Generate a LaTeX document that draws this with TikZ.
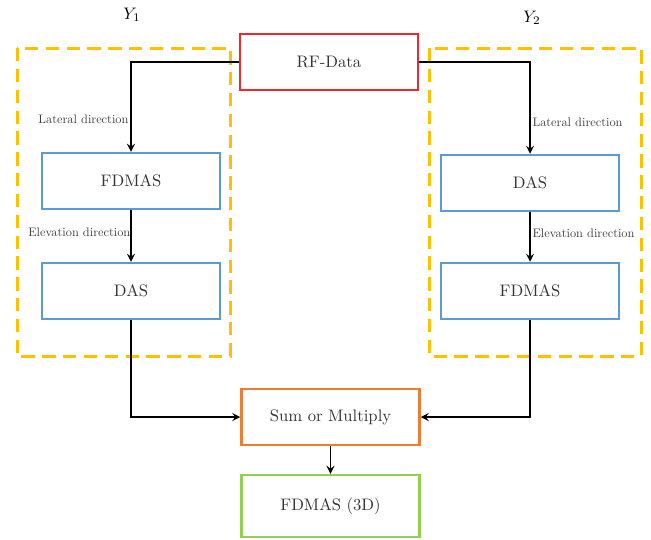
\documentclass[tikz,border=0pt]{standalone}
\usepackage{tikz}
\usetikzlibrary{arrows}
\definecolor{boxred}{HTML}{EA2A2E}
\definecolor{boxblue}{HTML}{5B9BD5}
\definecolor{boxorange}{HTML}{ED7D31}
\definecolor{boxgreen}{HTML}{92D050}
\definecolor{grpyellow}{HTML}{FFC000}
\tikzstyle{block} = [rectangle, minimum width=106.8pt, minimum height=33.6pt, text centered, line width=1.5pt, text=black!80]
\tikzstyle{input} = [block, draw=boxred]
\tikzstyle{beam} = [block, draw=boxblue]
\tikzstyle{combine} = [block, draw=boxorange]
\tikzstyle{result} = [block, draw=boxgreen, minimum height=37.2pt]
\tikzstyle{group} = [rectangle, draw=grpyellow, line width=1.8pt, dash pattern=on 8pt off 4.5pt]
\tikzstyle{dirlabel} = [scale=0.74, transform shape, text=black!75, inner sep=1.5pt]
\tikzstyle{arrow} = [line width=1.1pt,->,>=stealth]

\begin{document}
\begin{tikzpicture}[x=0.6pt, y=-0.6pt]
\useasboundingbox (0,0) rectangle (651,539);

\draw [group] (17,48) rectangle (230,356);
\draw [group] (429,48) rectangle (641,356);
\node (yOne) at (132,15) {$Y_1$};
\node (yTwo) at (532,18) {$Y_2$};

\node (rf) [input] at (329,62) {RF-Data};
\node (fdmasL) [beam] at (131,181) {FDMAS};
\node (dasL) [beam] at (131,291) {DAS};
\node (dasR) [beam] at (530,183) {DAS};
\node (fdmasR) [beam] at (530,291) {FDMAS};
\node (sum) [combine] at (330.5,417) {Sum or Multiply};
\node (out) [result] at (330.5,506) {FDMAS (3D)};

\draw [arrow] (rf.west) -| node [dirlabel, left, pos=0.82] {Lateral direction} (fdmasL.north);
\draw [arrow] (rf.east) -| node [dirlabel, right, pos=0.83] {Lateral direction} (dasR.north);
\draw [arrow] (fdmasL) -- node [dirlabel, left, pos=0.43, inner sep=0pt] {Elevation direction} (dasL);
\draw [arrow] (dasR) -- node [dirlabel, right, pos=0.43] {Elevation direction} (fdmasR);
\draw [arrow] (dasL.south) |- (sum.west);
\draw [arrow] (fdmasR.south) |- (sum.east);
\draw [arrow] (sum) -- (out);

\end{tikzpicture}
\end{document}
